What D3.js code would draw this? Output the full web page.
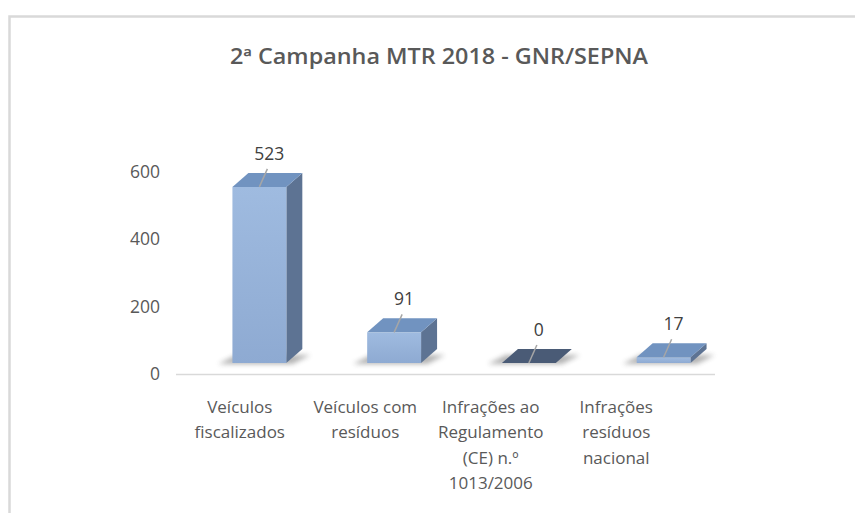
<!DOCTYPE html>
<html>
<head>
<meta charset="utf-8">
<script src="https://cdn.jsdelivr.net/npm/d3@7"></script>
<style>
  body { margin: 0; background: #fff; }
  text { font-family: 'Open Sans', sans-serif; }
</style>
</head>
<body>
<div id="chart"></div>
<script>
// Data
const title = '2ª Campanha MTR 2018 - GNR/SEPNA'
const categories = [
  ['Veículos', 'fiscalizados'],
  ['Veículos com', 'resíduos'],
  ['Infrações ao', 'Regulamento', '(CE) n.º', '1013/2006'],
  ['Infrações', 'resíduos', 'nacional']
]
const values = [523, 91, 0, 17]
const tickValues = [0, 200, 400, 600]

function draw() {
  const width = 855
  const height = 513
  const depth = { dx: 16, dy: -14 }

  const svg = d3.select('#chart')
    .append('svg')
    .attr('width', width)
    .attr('height', height)

  const defs = svg.append('defs')
  defs.append('filter')
    .attr('id', 'blur')
    .attr('x', '-50%').attr('y', '-100%')
    .attr('width', '200%').attr('height', '300%')
    .append('feGaussianBlur')
    .attr('stdDeviation', 2.5)

  const grad = defs.append('linearGradient')
    .attr('id', 'front')
    .attr('x1', 0).attr('y1', 0).attr('x2', 0).attr('y2', 1)
  grad.append('stop').attr('offset', '0%').attr('stop-color', '#9fbbe0')
  grad.append('stop').attr('offset', '100%').attr('stop-color', '#8eaad2')

  // chart border (runs off the right and bottom of the picture)
  svg.append('rect')
    .attr('x', 9.5).attr('y', 16.5)
    .attr('width', 1000).attr('height', 700)
    .attr('fill', 'none')
    .attr('stroke', '#d9d9d9')
    .attr('stroke-width', 2.5)

  svg.append('text')
    .attr('x', 439)
    .attr('y', 64)
    .attr('text-anchor', 'middle')
    .attr('font-size', 21)
    .attr('font-weight', 600)
    .attr('fill', '#595959')
    .attr('textLength', 418)
    .attr('lengthAdjust', 'spacingAndGlyphs')
    .text(title)

  // Scales
  const keys = categories.map(c => c.join(' '))
  const xBar = d3.scaleBand()
    .domain(keys)
    .range([192, 731])
    .paddingInner(0.6)
    .paddingOuter(0.3)
  const xLabel = d3.scaleBand()
    .domain(keys)
    .range([177, 679])
  const yBar = d3.scaleLinear().domain([0, 600]).range([363, 161])
  const yAxisScale = d3.scaleLinear().domain([0, 600]).range([374, 172])

  // Axes
  const yAxis = d3.axisLeft(yAxisScale).tickValues(tickValues).tickSize(0).tickPadding(0)
  const yAxisGroup = svg.append('g')
    .attr('transform', 'translate(160,0)')
    .call(yAxis)
  yAxisGroup.select('.domain').remove()
  yAxisGroup.selectAll('text')
    .attr('font-family', "'Open Sans', sans-serif")
    .attr('font-size', 17.5)
    .attr('fill', '#595959')

  svg.append('line')
    .attr('x1', 176).attr('x2', 715)
    .attr('y1', 374.5).attr('y2', 374.5)
    .attr('stroke', '#d9d9d9')
    .attr('stroke-width', 1.5)

  const labelGroups = svg.append('g')
    .selectAll('text')
    .data(categories)
    .join('text')
    .attr('x', d => xLabel(d.join(' ')) + xLabel.bandwidth() / 2)
    .attr('y', 413)
    .attr('text-anchor', 'middle')
    .attr('font-size', 17)
    .attr('fill', '#595959')
  labelGroups.selectAll('tspan')
    .data(d => d)
    .join('tspan')
    .attr('x', function () { return d3.select(this.parentNode).attr('x') })
    .attr('dy', (d, i) => i === 0 ? 0 : 25.3)
    .text(d => d)

  // Bars
  const bars = svg.append('g')
    .selectAll('g')
    .data(values)
    .join('g')

  const x0 = (d, i) => xBar(keys[i])
  const x1 = (d, i) => xBar(keys[i]) + xBar.bandwidth()
  const y0 = yBar(0)

  // floor shadow
  bars.append('path')
    .attr('d', (d, i) => {
      const a = x0(d, i), b = x1(d, i)
      return `M${a - 14},${y0 + 1} L${b + 6},${y0 + 1} L${b + depth.dx + 8},${y0 + depth.dy + 6} L${a + 4},${y0 + depth.dy + 6} Z`
    })
    .attr('fill', '#555')
    .attr('opacity', 0.45)
    .attr('filter', 'url(#blur)')

  // side face
  bars.append('path')
    .attr('d', (d, i) => {
      const b = x1(d, i), t = yBar(d)
      return `M${b},${y0} L${b + depth.dx},${y0 + depth.dy} L${b + depth.dx},${t + depth.dy} L${b},${t} Z`
    })
    .attr('fill', '#5d7393')

  // front face
  bars.append('rect')
    .attr('x', (d, i) => x0(d, i))
    .attr('y', d => yBar(d))
    .attr('width', xBar.bandwidth())
    .attr('height', d => y0 - yBar(d))
    .attr('fill', 'url(#front)')

  // top face
  bars.append('path')
    .attr('d', (d, i) => {
      const a = x0(d, i), b = x1(d, i), t = yBar(d)
      return `M${a},${t} L${b},${t} L${b + depth.dx},${t + depth.dy} L${a + depth.dx},${t + depth.dy} Z`
    })
    .attr('fill', d => d === 0 ? '#4a5b76' : '#7193c0')

  // leader lines
  bars.append('line')
    .attr('x1', (d, i) => x0(d, i) + xBar.bandwidth() / 2)
    .attr('y1', d => yBar(d))
    .attr('x2', (d, i) => x0(d, i) + xBar.bandwidth() / 2 + 8)
    .attr('y2', d => yBar(d) + depth.dy - 4)
    .attr('stroke', '#a6a6a6')
    .attr('stroke-width', 1.5)

  // data labels
  bars.append('text')
    .attr('x', (d, i) => x0(d, i) + xBar.bandwidth() / 2 + 10)
    .attr('y', d => yBar(d) - 27)
    .attr('text-anchor', 'middle')
    .attr('font-size', 17.5)
    .attr('fill', '#404040')
    .text(d => d)
}

draw()
</script>
</body>
</html>
